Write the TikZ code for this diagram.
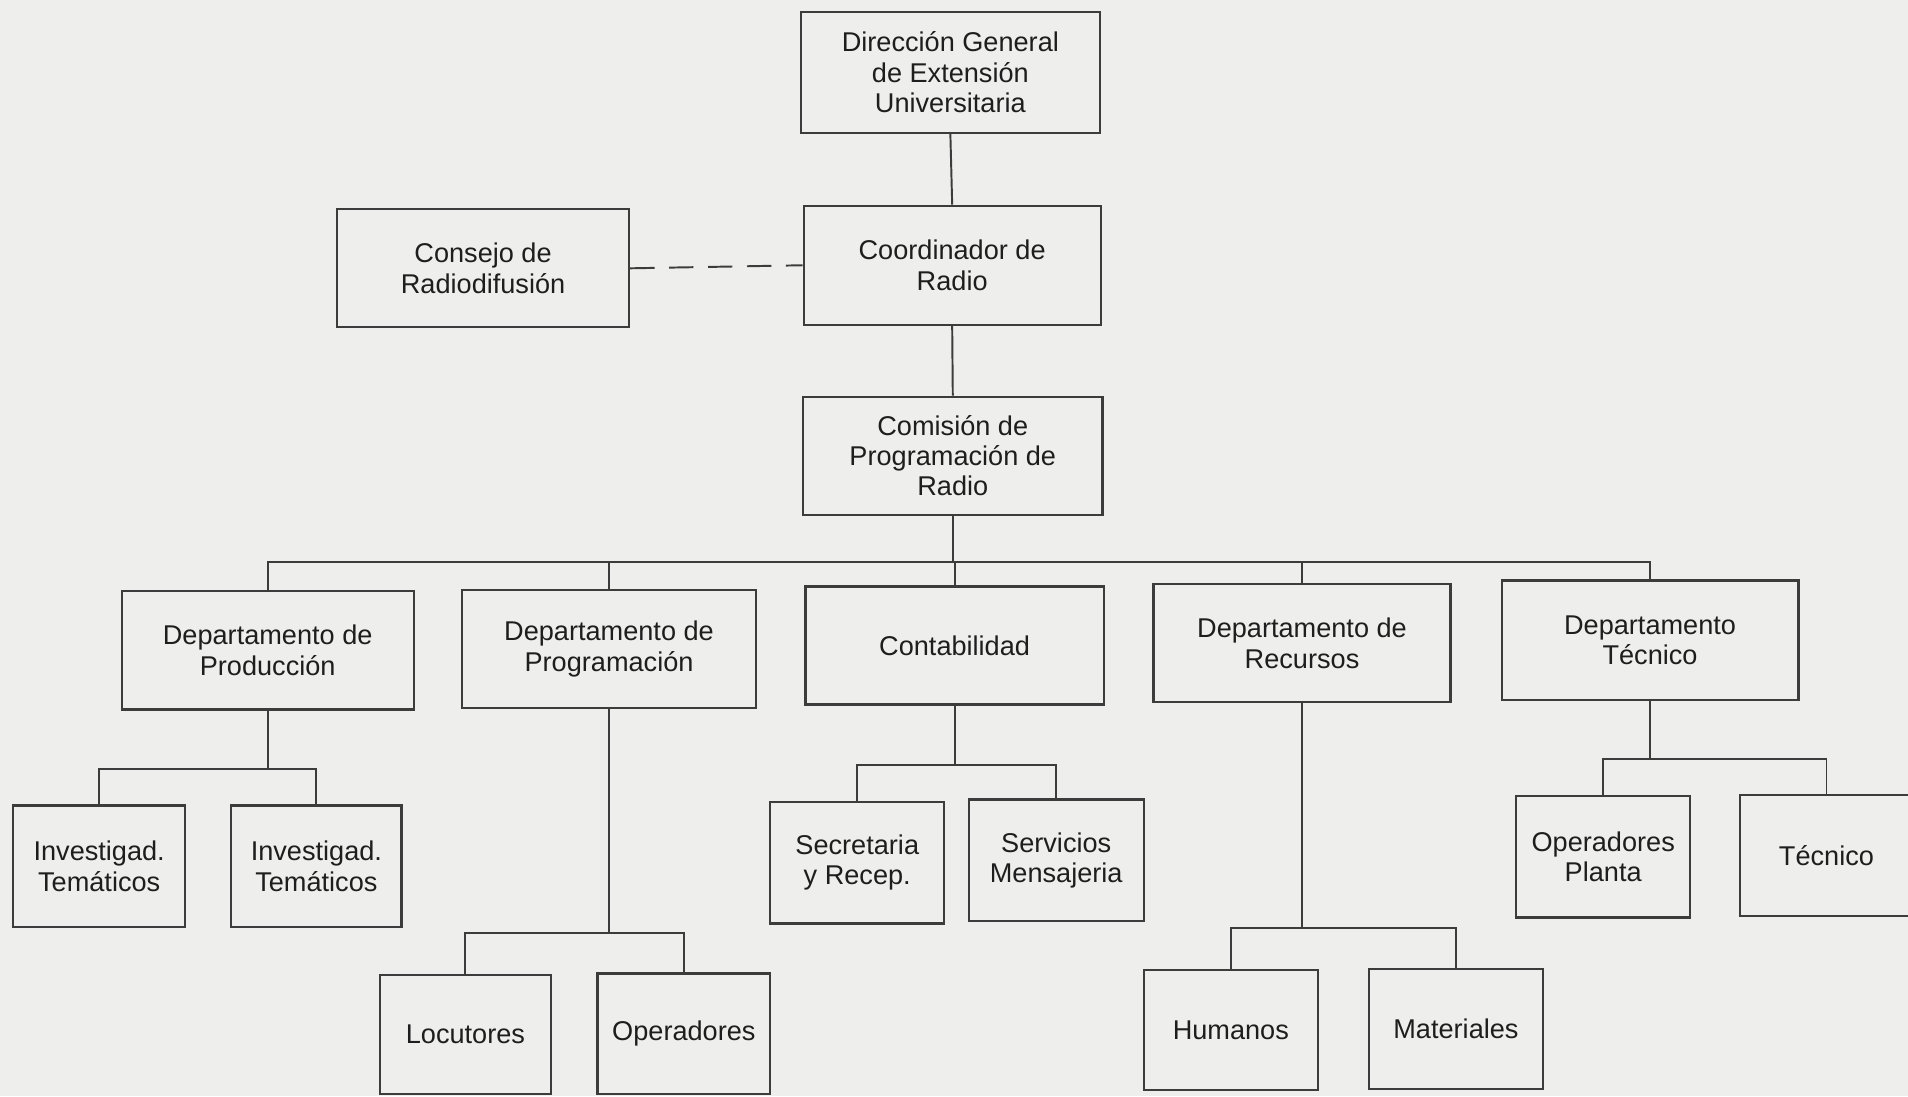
\documentclass[tikz,border=0pt]{standalone}
\usepackage{fontspec}
\setmainfont{Liberation Sans}
\definecolor{bgc}{HTML}{EEEEEC}
\definecolor{linec}{HTML}{3C3C3C}
\definecolor{txtc}{HTML}{1E1E1E}
\begin{document}
\begin{tikzpicture}[x=1pt,y=-1pt,
  box/.style={draw=linec, line width=1.8pt, inner sep=0pt, align=center,
    text=txtc, font=\fontsize{22.3}{25}\selectfont},
  big/.style={box, minimum width=244pt, minimum height=98pt},
  small/.style={box, minimum width=142pt, minimum height=100pt},
  conn/.style={draw=linec, line width=1.6pt},
  dashconn/.style={conn, dash pattern=on 20pt off 12pt}]
\useasboundingbox (0,0) rectangle (1568,901);
\fill[bgc] (0,0) rectangle (1568,901);
% top chain
\node[big, minimum width=246pt, minimum height=99pt] (dg) at (781,59.5) {Dirección General\\de Extensión\\Universitaria};
\node[big] (coord) at (782.5,218) {Coordinador de\\Radio};
\node[big, minimum width=240pt, minimum height=97pt] (consejo) at (397,220.5) {Consejo de\\Radiodifusión};
\node[big, minimum width=246pt, minimum height=97pt] (comision) at (783,374.5) {Comisión de\\Programación de\\Radio};
% departments
\node[big, minimum width=240pt, minimum height=97pt] (prod) at (220,534.5) {Departamento de\\Producción};
\node[big, minimum width=241pt, minimum height=97pt] (prog) at (500.5,533.5) {Departamento de\\Programación};
\node[big, minimum width=245pt, minimum height=97pt] (cont) at (784.5,530.5) {Contabilidad};
\node[big, minimum height=97pt] (rec) at (1070,528.5) {Departamento de\\Recursos};
\node[big] (tec) at (1356,526) {Departamento\\Técnico};
% sub-units
\node[small, minimum width=141pt] (inv1) at (81.5,712) {Investigad.\\Temáticos};
\node[small, minimum width=140pt] (inv2) at (260,712) {Investigad.\\Temáticos};
\node[small, minimum width=141pt, minimum height=98pt] (loc) at (382.5,850) {Locutores};
\node[small, minimum height=99pt] (oper) at (562,849.5) {Operadores};
\node[small, minimum width=143pt] (sec) at (704.5,709) {Secretaria\\y Recep.};
\node[small, minimum width=144pt] (serv) at (868,707) {Servicios\\Mensajeria};
\node[small, minimum width=143pt, minimum height=99pt] (hum) at (1011.5,846.5) {Humanos};
\node[small, minimum width=143pt, minimum height=99pt] (mat) at (1196.5,845.5) {Materiales};
\node[small, minimum width=143pt] (opp) at (1317.5,704) {Operadores\\Planta};
\node[small] (tecn) at (1501,703) {Técnico};
% connectors
\draw[conn] (dg.south) -- (coord.north);
\draw[dashconn] (consejo.east) -- (coord.west);
\draw[conn] (coord.south) -- (comision.north);
\coordinate (bus) at (783,462);
\draw[conn] (comision.south) -- (bus);
\foreach \d in {prod,prog,cont,rec,tec} \draw[conn] (\d.north) |- (bus);
\coordinate (pb) at (220,632);
\draw[conn] (prod.south) -- (pb);
\draw[conn] (inv1.north) |- (pb);
\draw[conn] (inv2.north) |- (pb);
\coordinate (gb) at (500.5,767);
\draw[conn] (prog.south) -- (gb);
\draw[conn] (loc.north) |- (gb);
\draw[conn] (oper.north) |- (gb);
\coordinate (cb) at (784.5,629);
\draw[conn] (cont.south) -- (cb);
\draw[conn] (sec.north) |- (cb);
\draw[conn] (serv.north) |- (cb);
\coordinate (rb) at (1070,763);
\draw[conn] (rec.south) -- (rb);
\draw[conn] (hum.north) |- (rb);
\draw[conn] (mat.north) |- (rb);
\coordinate (tb) at (1356,624);
\draw[conn] (tec.south) -- (tb);
\draw[conn] (opp.north) |- (tb);
\draw[conn] (tecn.north) |- (tb);
\end{tikzpicture}
\end{document}
